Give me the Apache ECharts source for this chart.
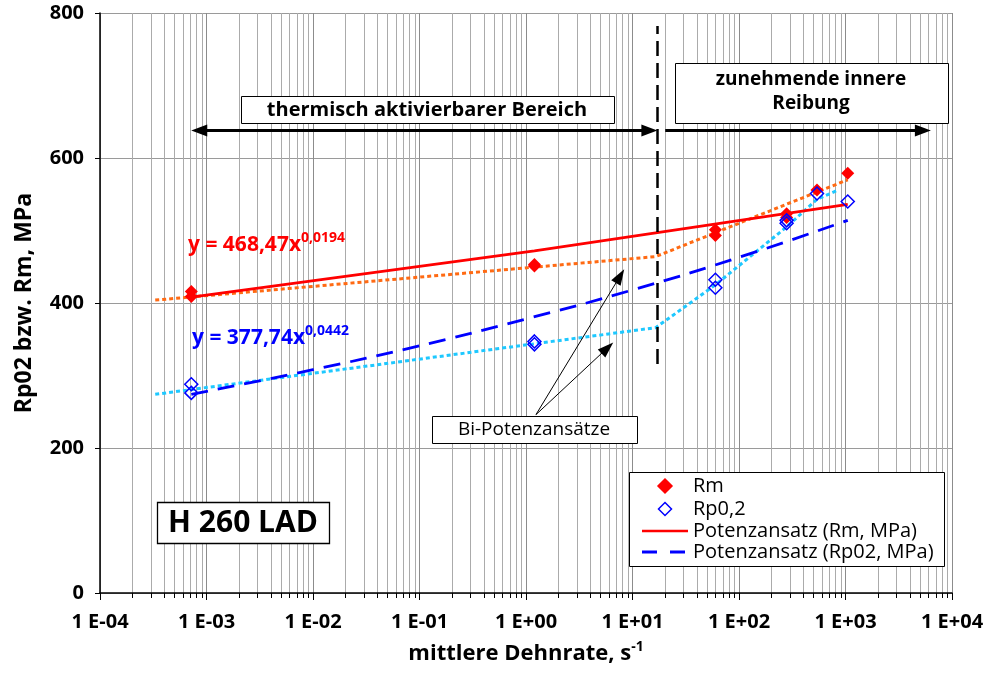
<!DOCTYPE html>
<html>
<head>
<meta charset="utf-8">
<script src="https://cdn.jsdelivr.net/npm/echarts@6/dist/echarts.min.js"></script>
<style>
html, body { margin: 0; padding: 0; background: #fff; }
#main { width: 997px; height: 682px; }
</style>
</head>
<body>
<div id="main"></div>
<script>
// Messwerte H 260 LAD (Dehnrate in 1/s, Festigkeit in MPa)
var rateRm = [7.2e-4, 7.2e-4, 1.2, 1.2, 60, 60, 280, 280, 540, 1050];
var valRm  = [416, 409, 453, 451, 501, 493, 523, 518, 556, 579];
var rateRp = [7.2e-4, 7.2e-4, 1.2, 1.2, 60, 60, 280, 280, 540, 1050];
var valRp  = [288, 276, 347, 343, 432, 421, 514, 510, 551, 540];

// Potenzansatz-Linien
var fitRateRm = [7.2e-4, 1.2, 1050];
var fitRm     = [408, 472, 536];
var fitRateRp = [7.2e-4, 0.01, 0.1, 1, 10, 100, 1050];
var fitRp     = [274, 308, 341, 378, 418, 463, 514];

// Bi-Potenzansaetze (punktiert)
var biRateRm = [3.3e-4, 16.5, 1050];
var biRm     = [404, 464, 570];
var biRateRp = [3.3e-4, 16.5, 60, 280, 540, 830];
var biRp     = [274, 366, 425, 505, 543, 555];

var yTicks = [0, 200, 400, 600, 800];

function zip(a, b) {
	var out = [];
	for (var i = 0; i < a.length; i++) out.push([a[i], b[i]]);
	return out;
}

// Nebenteilung der log-Achse
var minorRates = [];
for (var e = -4; e < 4; e++) {
	for (var m = 2; m < 10; m++) minorRates.push([m * Math.pow(10, e)]);
}

var FONT = 'Open Sans';
var chart = echarts.init(document.getElementById('main'));

// Legende (von Hand, wie im Original)
var LX = 629, LY = 472;
var legendRows = [486, 509, 531, 552];
function legendText(txt, y) {
	return { type: 'text', x: 693, y: y, z: 111, style: { text: txt, font: '20px "Open Sans"', fill: '#000', align: 'left', verticalAlign: 'middle', textAlign: 'left', textVerticalAlign: 'middle' } };
}
function diamond(cx, cy, r, fill, stroke) {
	return { type: 'polygon', z: 111, shape: { points: [[cx, cy - r], [cx + r, cy], [cx, cy + r], [cx - r, cy]] },
		style: { fill: fill, stroke: stroke, lineWidth: 1.5 } };
}
var legendGraphic =
[
	{ type: 'rect', x: LX + 0.5, y: LY + 0.5, z: 110, shape: { width: 315, height: 94 }, style: { fill: '#fff', stroke: '#000', lineWidth: 1 } },
	diamond(665, legendRows[0], 7, '#ff0000', '#ff0000'),
	legendText('Rm', legendRows[0]),
	diamond(665, legendRows[1], 6.5, 'none', '#0000ff'),
	legendText('Rp0,2', legendRows[1]),
	{ type: 'line', z: 111, shape: { x1: 642, y1: legendRows[2], x2: 688, y2: legendRows[2] }, style: { stroke: '#ff0000', lineWidth: 2.5 } },
	legendText('Potenzansatz (Rm, MPa)', legendRows[2]),
	{ type: 'line', z: 111, shape: { x1: 642, y1: legendRows[3], x2: 688, y2: legendRows[3] }, style: { stroke: '#0000ff', lineWidth: 3, lineDash: [15, 13] } },
	legendText('Potenzansatz (Rp02, MPa)', legendRows[3])
];

function boxText(txt, x, y, font) {
	return { type: 'text', x: x, y: y, z: 101, style: { text: txt, font: font, fill: '#000', align: 'center', verticalAlign: 'middle', textAlign: 'center', textVerticalAlign: 'middle' } };
}
function box(x, y, w, h, lw) {
	return { type: 'rect', x: x + 0.5, y: y + 0.5, z: 100, shape: { width: w, height: h }, style: { fill: '#fff', stroke: '#000', lineWidth: lw || 1 } };
}

var options =
{
	animation: false,
	textStyle: { fontFamily: FONT, color: '#000' },
	grid: { left: 100, right: 45, top: 13, bottom: 89 },
	xAxis:
	{
		type: 'log',
		logBase: 10,
		min: 1e-4,
		max: 1e4,
		splitNumber: 8,
		name: '{a|mittlere Dehnrate, s}{b|-1}',
		nameLocation: 'middle',
		nameGap: 47,
		nameTextStyle:
		{
			rich:
			{
				a: { fontFamily: FONT, fontSize: 22, fontWeight: 'bold', color: '#000', lineHeight: 28 },
				b: { fontFamily: FONT, fontSize: 14, fontWeight: 'bold', color: '#000', lineHeight: 14, verticalAlign: 'top' }
			}
		},
		axisLine: { lineStyle: { color: '#000', width: 1.5 } },
		axisTick: { show: true, length: 7, lineStyle: { color: '#000' } },
		axisLabel:
		{
			margin: 19,
			fontSize: 20,
			fontWeight: 'bold',
			color: '#000',
			formatter: function(v) {
				var ex = Math.round(Math.log10(v));
				var s = Math.abs(ex) < 10 ? '0' + Math.abs(ex) : '' + Math.abs(ex);
				return '1 E' + (ex < 0 ? '-' : '+') + s;
			}
		},
		splitLine: { show: true, lineStyle: { color: '#8c8c8c', width: 1 } }
	},
	yAxis:
	{
		type: 'value',
		min: yTicks[0],
		max: yTicks[yTicks.length - 1],
		interval: 200,
		name: 'Rp02 bzw. Rm, MPa',
		nameLocation: 'middle',
		nameGap: 64,
		nameTextStyle: { fontFamily: FONT, fontSize: 23, fontWeight: 'bold', color: '#000' },
		axisLine: { show: true, lineStyle: { color: '#000', width: 1.5 } },
		axisTick: { show: true, length: 5, lineStyle: { color: '#000' } },
		axisLabel: { margin: 16, fontSize: 20, fontWeight: 'bold', color: '#000' },
		splitLine: { show: true, lineStyle: { color: '#9a9a9a', width: 1 } }
	},
	graphic:
	[
		box(241, 96, 373, 27),
		boxText('thermisch aktivierbarer Bereich', 427, 110, 'bold 20px "Open Sans"'),
		box(675, 63, 273, 60),
		boxText('zunehmende innere', 811, 80, 'bold 19px "Open Sans"'),
		boxText('Reibung', 811, 104, 'bold 19px "Open Sans"'),
		box(432, 416, 205, 27),
		boxText('Bi-Potenzansätze', 534, 430, '19px "Open Sans"'),
		box(157, 502, 172, 41, 1.3),
		boxText('H 260 LAD', 243, 523, 'bold 30px "Open Sans"'),
		{ type: 'text', x: 188, y: 231, z: 101, style: {
			text: '{m|y = 468,47x}{s|0,0194}',
			rich: {
				m: { fontFamily: FONT, fontSize: 21, fontWeight: 'bold', fill: '#ff0000', lineHeight: 28 },
				s: { fontFamily: FONT, fontSize: 14, fontWeight: 'bold', fill: '#ff0000', lineHeight: 14, verticalAlign: 'top' }
			}
		} },
		{ type: 'text', x: 192, y: 324, z: 101, style: {
			text: '{m|y = 377,74x}{s|0,0442}',
			rich: {
				m: { fontFamily: FONT, fontSize: 21, fontWeight: 'bold', fill: '#0000ff', lineHeight: 28 },
				s: { fontFamily: FONT, fontSize: 14, fontWeight: 'bold', fill: '#0000ff', lineHeight: 14, verticalAlign: 'top' }
			}
		} }
	].concat(legendGraphic),
	series:
	[
		{
			name: 'grid-minor',
			type: 'custom',
			data: minorRates,
			silent: true,
			clip: false,
			z: 0,
			encode: { x: 0 },
			renderItem: function(params, api) {
				var bot = api.coord([api.value(0), yTicks[0]]);
				var top = api.coord([api.value(0), yTicks[yTicks.length - 1]]);
				var x = Math.round(bot[0]) + 0.5;
				return {
					type: 'group',
					children: [
						{ type: 'line', shape: { x1: x, y1: bot[1], x2: x, y2: top[1] }, style: { stroke: '#ababab', lineWidth: 1 } },
						{ type: 'line', shape: { x1: x, y1: bot[1], x2: x, y2: bot[1] + 5 }, style: { stroke: '#000', lineWidth: 1 } }
					]
				};
			}
		},
		{
			name: 'Bi Rm',
			type: 'line',
			data: zip(biRateRm, biRm),
			showSymbol: false,
			symbol: 'none',
			z: 3,
			lineStyle: { color: '#ff6a13', width: 3, type: [4, 3] }
		},
		{
			name: 'Bi Rp',
			type: 'line',
			data: zip(biRateRp, biRp),
			showSymbol: false,
			symbol: 'none',
			z: 3,
			lineStyle: { color: '#1ec8ff', width: 3, type: [4, 3] }
		},
		{
			name: 'Potenzansatz (Rm, MPa)',
			type: 'line',
			data: zip(fitRateRm, fitRm),
			showSymbol: false,
			symbol: 'none',
			z: 4,
			lineStyle: { color: '#ff0000', width: 2.8 }
		},
		{
			name: 'Potenzansatz (Rp02, MPa)',
			type: 'line',
			data: zip(fitRateRp, fitRp),
			showSymbol: false,
			symbol: 'none',
			smooth: true,
			z: 4,
			lineStyle: { color: '#0000ff', width: 2.8, type: [17, 10] }
		},
		{
			name: 'Rm',
			type: 'scatter',
			data: zip(rateRm, valRm),
			symbol: 'diamond',
			symbolSize: 13,
			z: 5,
			itemStyle: { color: '#ff0000', opacity: 1 }
		},
		{
			name: 'Rp0,2',
			type: 'scatter',
			data: zip(rateRp, valRp),
			symbol: 'diamond',
			symbolSize: 13,
			z: 5,
			itemStyle: { color: 'rgba(255,255,255,0)', borderColor: '#0000ff', borderWidth: 1.5, opacity: 1 }
		},
		{
			name: 'annotations',
			type: 'scatter',
			data: [],
			silent: true,
			z: 6,
			markLine:
			{
				silent: true,
				label: { show: false },
				symbol: ['none', 'none'],
				data:
				[
					// Bereichspfeile
					[ { coord: [8.55e-4, 638], symbol: 'triangle', symbolSize: [12, 16] }, { coord: [14.4, 638], symbol: 'triangle', symbolSize: [12, 16] } ],
					[ { coord: [20.3, 638], symbol: 'none' }, { coord: [5330, 638], symbol: 'triangle', symbolSize: [12, 16] } ],
					// Grenze
					[ { coord: [17, 316], lineStyle: { type: [15, 7], width: 2.5 } }, { coord: [17, 782] } ],
					// Hinweispfeile
					[ { coord: [1.24, 246], lineStyle: { width: 1 } }, { coord: [7.64, 437], symbol: 'triangle', symbolSize: [11, 16] } ],
					[ { coord: [1.24, 246], lineStyle: { width: 1 } }, { coord: [5.81, 338], symbol: 'triangle', symbolSize: [11, 16] } ]
				],
				lineStyle: { color: '#000', width: 3, type: 'solid' }
			}
		}
	]
};

chart.setOption(options);
</script>
</body>
</html>
